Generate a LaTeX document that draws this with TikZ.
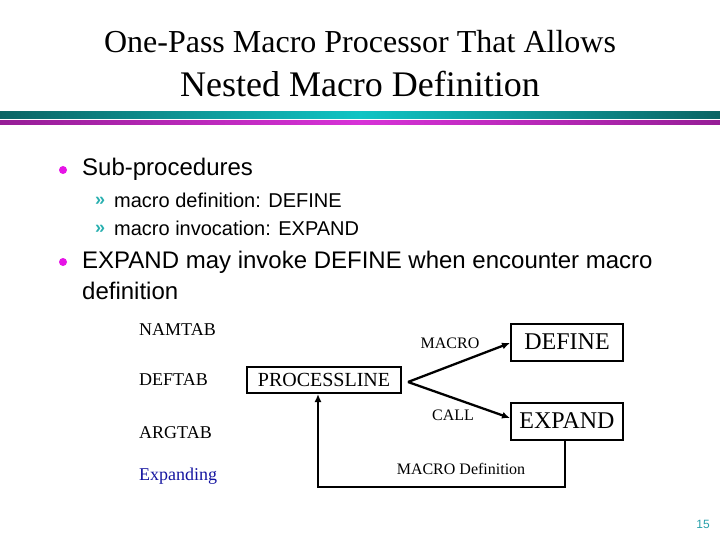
\documentclass[tikz,border=0pt]{standalone}
\usepackage{fontspec}
\setmainfont{Liberation Serif}
\setsansfont{Liberation Sans}
\usetikzlibrary{arrows.meta}
\definecolor{tealdark}{RGB}{10,100,100}
\definecolor{tealbright}{RGB}{16,196,196}
\definecolor{magdark}{RGB}{150,30,150}
\definecolor{magbright}{RGB}{215,50,215}
\definecolor{bulletmag}{RGB}{230,20,230}
\definecolor{subteal}{RGB}{40,175,175}
\definecolor{expblue}{RGB}{20,20,160}
\definecolor{pgteal}{RGB}{40,160,170}
\tikzset{
  serifbox/.style={draw, line width=2pt, inner sep=0pt, font=\fontsize{24}{28}\selectfont},
  lbl/.style={font=\fontsize{16}{19}\selectfont, inner sep=0pt},
  tab/.style={font=\fontsize{18}{21}\selectfont, inner sep=0pt, anchor=west},
  main/.style={font=\sffamily\fontsize{24}{28}\selectfont, inner sep=0pt, anchor=west},
  sub/.style={font=\sffamily\fontsize{20}{24}\selectfont, inner sep=0pt, anchor=west},
  conn/.style={line width=2.3pt, -{Latex[length=8pt,width=7pt]}},
  dot/.style={circle, fill=bulletmag, inner sep=0pt, minimum size=8pt},
  raq/.style={font=\sffamily\bfseries\fontsize{18}{21}\selectfont, text=subteal, inner sep=0pt, anchor=west}
}
\begin{document}
\begin{tikzpicture}[x=1pt,y=-1pt]
\useasboundingbox (0,0) rectangle (720,540);
% title
\node[font=\fontsize{32}{36}\selectfont, inner sep=0pt] (t1) at (360,42) {One-Pass Macro Processor That Allows};
\node[font=\fontsize{36}{40}\selectfont, inner sep=0pt] (t2) at (360,84) {Nested Macro Definition};
% bars
\shade[left color=tealdark, right color=tealdark, middle color=tealbright] (0,112) rectangle (720,119);
\shade[left color=magdark, right color=magdark, middle color=magbright] (0,121) rectangle (720,125);
% bullets
\node[dot] (d1) at (63,170) {};
\node[main] (b1) at (82,169) {Sub-procedures};
\node[raq] (r1) at (95,201) {»};
\node[sub] (s1) at (114,200) {macro definition: DEFINE};
\node[raq] (r2) at (95,229) {»};
\node[sub] (s2) at (114,228) {macro invocation: EXPAND};
\node[dot] (d2) at (63,262) {};
\node[main] (b2) at (82,262) {EXPAND may invoke DEFINE when encounter macro};
\node[main] (b3) at (82,291) {definition};
% left column
\node[tab] (namtab) at (139,330) {NAMTAB};
\node[tab] (deftab) at (139,380) {DEFTAB};
\node[tab] (argtab) at (139,433) {ARGTAB};
\node[tab, text=expblue] (expanding) at (139,476) {Expanding};
% diagram
\node[serifbox, font=\fontsize{20}{24}\selectfont, minimum width=154pt, minimum height=26pt] (pl) at (324,380) {PROCESSLINE};
\node[serifbox, minimum width=112pt, minimum height=37pt] (def) at (567,342) {DEFINE};
\node[serifbox, minimum width=112pt, minimum height=37pt] (exp) at (567,421) {EXPAND};
\coordinate (fork) at (408,382);
\draw[conn] (fork) -- (def.west |- 0,343);
\draw[conn] (fork) -- (exp.west |- 0,418);
\node[lbl] (macro) at (450,343) {MACRO};
\node[lbl] (call) at (453,415) {CALL};
\coordinate (c1) at (565,487);
\coordinate (c2) at (318,487);
\draw[conn] (exp.south -| c1) -- (c1) -- (c2) -- (pl.south -| c2);
\node[lbl] (md) at (461,469) {MACRO Definition};
\node[font=\sffamily\fontsize{12}{14}\selectfont, text=pgteal, inner sep=0pt] (pg) at (703,524) {15};
\end{tikzpicture}
\end{document}
